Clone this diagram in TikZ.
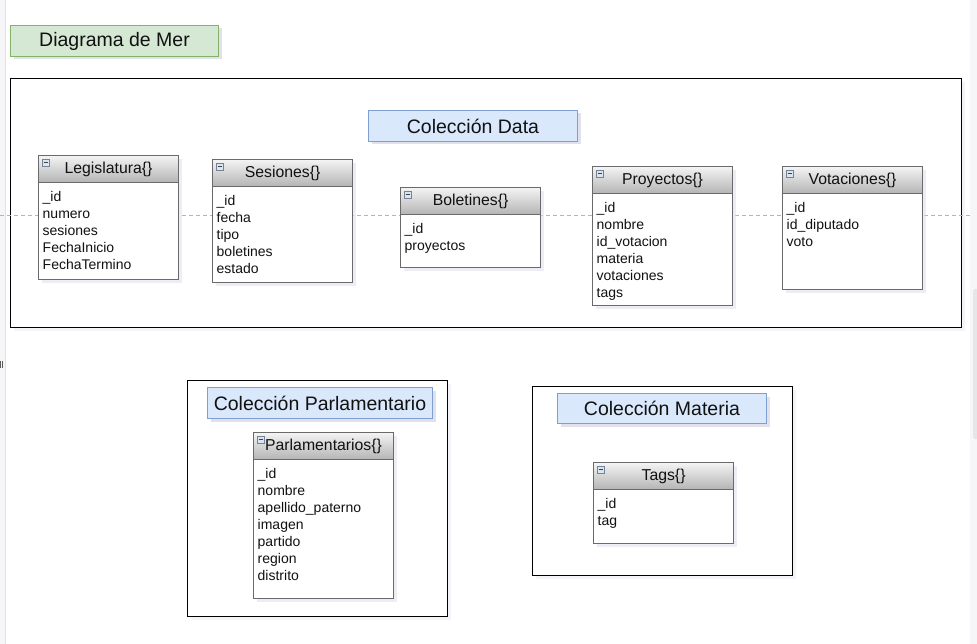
\documentclass[tikz,border=0pt]{standalone}
\usepackage{fontspec}
\setmainfont{Liberation Sans}
\usetikzlibrary{calc,shadows}
\definecolor{txt}{HTML}{111111}
\definecolor{greenfill}{HTML}{D5E8D4}
\definecolor{greenline}{HTML}{82B366}
\definecolor{bluefill}{HTML}{DAE8FC}
\definecolor{blueline}{HTML}{7F9FD4}
\definecolor{hdtop}{HTML}{F4F4F4}
\definecolor{hdbot}{HTML}{B4B4B4}
\definecolor{entline}{HTML}{6A6A6A}
\definecolor{shadA}{HTML}{DCDCEC}
\definecolor{shadB}{HTML}{E8E8F2}
\definecolor{shadC}{HTML}{C4C4DA}
\definecolor{iconfill}{HTML}{DCE4EE}
\definecolor{iconline}{HTML}{70829C}
\definecolor{stripc}{HTML}{F6F6F8}
\definecolor{stripline}{HTML}{E2E2E6}
\definecolor{thumbc}{HTML}{E6E6E8}
\definecolor{dashc}{HTML}{B4B4B4}
\tikzset{
  collbox/.style={draw=black, line width=1.3pt, fill=white,
    drop shadow={shadow xshift=3pt, shadow yshift=-3pt, fill=shadB}},
  labelbox/.style={inner sep=0pt, text=txt, font=\fontsize{19.5}{22}\selectfont,
    drop shadow={shadow xshift=3pt, shadow yshift=-3pt, fill=shadC}},
  greenlabel/.style={labelbox, fill=greenfill, draw=greenline, line width=1pt},
  bluelabel/.style={labelbox, fill=bluefill, draw=blueline, line width=1pt},
  entbody/.style={draw=entline, line width=1.1pt, fill=white, inner sep=0pt,
    drop shadow={shadow xshift=3pt, shadow yshift=-3pt, fill=shadA}},
  enthead/.style={draw=entline, line width=1.1pt, top color=hdtop, bottom color=hdbot,
    minimum height=27pt, inner sep=0pt, text=txt, font=\fontsize{15.8}{18}\selectfont},
  enticon/.style={draw=iconline, line width=0.6pt, fill=iconfill, minimum size=7pt, inner sep=0pt},
  iconbar/.style={draw=black!75, line width=0.8pt},
  entrow/.style={inner sep=0pt, text=txt, font=\fontsize{14}{16}\selectfont},
  dashline/.style={draw=dashc, line width=0.8pt, dash pattern=on 4pt off 3pt}
}
\newcommand{\entbox}[7]{%
  \node[entbody, minimum width=#4pt, minimum height=#5pt, anchor=north west] (#1) at (#2,#3) {};
  \node[enthead, minimum width=#4pt, anchor=north west] (#1-h) at (#2,#3) {#6};
  \node[enticon, anchor=north west] (#1-i) at ($(#1-h.north west)+(4,4)$) {};
  \draw[iconbar] ($(#1-i.west)+(1.6,0)$) -- ($(#1-i.east)+(-1.6,0)$);
  \foreach \t [count=\k] in {#7} {
    \node[entrow, anchor=base west] (#1-r\k) at ($(#1-h.south west)+(4.5,{18+17*(\k-1)})$) {\t};
  }
}
\begin{document}
\begin{tikzpicture}[x=1pt,y=-1pt]
\useasboundingbox (0,0) rectangle (977,644);
% screen chrome
\fill[white] (0,0) rectangle (977,644);
\fill[stripc] (0,0) rectangle (5.5,644);
\draw[stripline, line width=0.8pt] (5.5,0) -- (5.5,644);
\fill[stripc] (970,0) rectangle (977,644);
\fill[thumbc, rounded corners=2pt] (973,289) rectangle (978,439);
\fill[black!65] (0,361) rectangle (1,368);
\fill[black!65] (2,361) rectangle (3,368);

% title
\node[greenlabel, minimum width=208pt, minimum height=31pt, anchor=north west] (title) at (10,25) {Diagrama de Mer};

% collection frames
\node[collbox, minimum width=951pt, minimum height=249pt, anchor=north west, inner sep=0pt] (data) at (10,78) {};
\node[collbox, minimum width=260pt, minimum height=236pt, anchor=north west, inner sep=0pt] (parl) at (187,380) {};
\node[collbox, minimum width=260pt, minimum height=189pt, anchor=north west, inner sep=0pt] (mat) at (532,386) {};

% dashed guide line
\coordinate (gl) at (0,215);
\coordinate (gr) at (970,215);
\draw[dashline] (gl) -- (gr);

% collection labels
\node[bluelabel, minimum width=209pt, minimum height=31pt, anchor=north west] (datalbl) at (368,110) {Colección Data};
\node[bluelabel, minimum width=225pt, minimum height=31pt, anchor=north west] (parllbl) at (207,387) {Colección Parlamentario};
\node[bluelabel, minimum width=209pt, minimum height=30pt, anchor=north west] (matlbl) at (557,393) {Colección Materia};

% entities
\entbox{leg}{38}{155}{140}{124}{Legislatura\{\}}{\_id,numero,sesiones,FechaInicio,FechaTermino}
\entbox{ses}{212}{159}{140}{123}{Sesiones\{\}}{\_id,fecha,tipo,boletines,estado}
\entbox{bol}{400}{187}{140}{80}{Boletines\{\}}{\_id,proyectos}
\entbox{pro}{592}{166}{140}{139}{Proyectos\{\}}{\_id,nombre,id\_votacion,materia,votaciones,tags}
\entbox{vot}{782}{166}{140}{123}{Votaciones\{\}}{\_id,id\_diputado,voto}
\entbox{par}{253}{432}{140}{166}{Parlamentarios\{\}}{\_id,nombre,apellido\_paterno,imagen,partido,region,distrito}
\entbox{tag}{593}{462}{140}{81}{Tags\{\}}{\_id,tag}
\end{tikzpicture}
\end{document}
